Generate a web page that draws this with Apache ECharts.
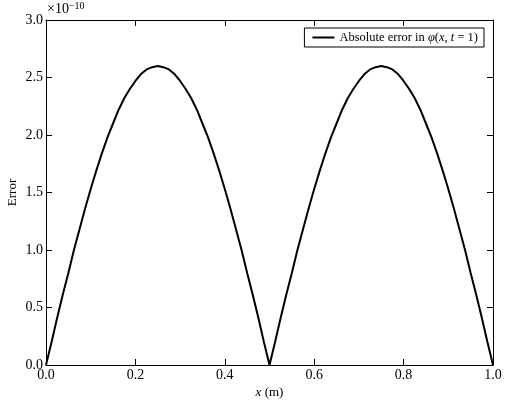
<!DOCTYPE html>
<html>
<head>
<meta charset="utf-8">
<script src="https://cdn.jsdelivr.net/npm/echarts@6/dist/echarts.min.js"></script>
<style>
  html, body { margin: 0; padding: 0; background: #fff; }
  #chart { width: 509px; height: 407px; }
</style>
</head>
<body>
<div id="chart"></div>
<script>
// positions in metres
const xValues = [0, 0.0125, 0.025, 0.0375, 0.05, 0.0625, 0.075, 0.0875, 0.1, 0.1125,
  0.125, 0.1375, 0.15, 0.1625, 0.175, 0.1875, 0.2, 0.2125, 0.225, 0.2375,
  0.25, 0.2625, 0.275, 0.2875, 0.3, 0.3125, 0.325, 0.3375, 0.35, 0.3625,
  0.375, 0.3875, 0.4, 0.4125, 0.425, 0.4375, 0.45, 0.4625, 0.475, 0.4875,
  0.5, 0.5125, 0.525, 0.5375, 0.55, 0.5625, 0.575, 0.5875, 0.6, 0.6125,
  0.625, 0.6375, 0.65, 0.6625, 0.675, 0.6875, 0.7, 0.7125, 0.725, 0.7375,
  0.75, 0.7625, 0.775, 0.7875, 0.8, 0.8125, 0.825, 0.8375, 0.85, 0.8625,
  0.875, 0.8875, 0.9, 0.9125, 0.925, 0.9375, 0.95, 0.9625, 0.975, 0.9875, 1]
// absolute error, in units of 1e-10
const errorValues = [0, 0.20, 0.41, 0.61, 0.80, 1.00, 1.18, 1.36, 1.53, 1.69,
  1.84, 1.98, 2.10, 2.22, 2.32, 2.40, 2.47, 2.53, 2.57, 2.59,
  2.60, 2.59, 2.57, 2.53, 2.47, 2.40, 2.32, 2.22, 2.10, 1.98,
  1.84, 1.69, 1.53, 1.36, 1.18, 1.00, 0.80, 0.61, 0.41, 0.20,
  0, 0.20, 0.41, 0.61, 0.80, 1.00, 1.18, 1.36, 1.53, 1.69,
  1.84, 1.98, 2.10, 2.22, 2.32, 2.40, 2.47, 2.53, 2.57, 2.59,
  2.60, 2.59, 2.57, 2.53, 2.47, 2.40, 2.32, 2.22, 2.10, 1.98,
  1.84, 1.69, 1.53, 1.36, 1.18, 1.00, 0.80, 0.61, 0.41, 0.20, 0]
const seriesName = 'Absolute error in φ(x, t = 1)'

const font = 'Liberation Serif'
const chart = echarts.init(document.getElementById('chart'))

const axisBase = {
  type: 'value',
  axisLine: { show: true, onZero: false, lineStyle: { color: '#000', width: 1 } },
  axisTick: { show: true, inside: true, length: 6, lineStyle: { color: '#000' } },
  splitLine: { show: false }
}

chart.setOption({
  animation: false,
  grid: { left: 46, right: 16, top: 20, bottom: 42, containLabel: false, outerBoundsMode: 'none' },
  legend: {
    data: [seriesName],
    right: 25,
    top: 28,
    padding: [3, 6, 3, 8],
    itemWidth: 22,
    itemHeight: 2,
    itemGap: 12,
    borderColor: '#000',
    borderWidth: 1,
    borderRadius: 0,
    icon: 'rect',
    formatter: () => '{n|Absolute error in }{i|φ}{n|(}{i|x}{n|, }{i|t}{n| = 1)}',
    textStyle: {
      rich: {
        n: { fontFamily: font, fontSize: 12.5, color: '#000' },
        i: { fontFamily: font, fontSize: 12.5, fontStyle: 'italic', color: '#000' }
      }
    }
  },
  xAxis: [
    Object.assign({}, axisBase, {
      min: 0, max: 1, interval: 0.2,
      position: 'bottom',
      name: '{i|x}{n| (m)}',
      nameLocation: 'middle',
      nameGap: 21,
      nameMoveOverlap: false,
      nameTextStyle: {
        rich: {
          n: { fontFamily: font, fontSize: 13, color: '#000' },
          i: { fontFamily: font, fontSize: 13, fontStyle: 'italic', color: '#000' }
        }
      },
      axisLabel: { fontFamily: font, fontSize: 14, color: '#000', margin: 3,
        formatter: v => v.toFixed(1) }
    }),
    Object.assign({}, axisBase, {
      min: 0, max: 1, interval: 0.2,
      position: 'top',
      axisLabel: { show: false }
    })
  ],
  yAxis: [
    Object.assign({}, axisBase, {
      min: 0, max: 3, interval: 0.5,
      position: 'left',
      name: 'Error',
      nameLocation: 'middle',
      nameGap: 27,
      nameMoveOverlap: false,
      nameTextStyle: { fontFamily: font, fontSize: 13, color: '#000' },
      axisLabel: { fontFamily: font, fontSize: 14, color: '#000', margin: 3,
        formatter: v => v.toFixed(1) }
    }),
    Object.assign({}, axisBase, {
      min: 0, max: 3, interval: 0.5,
      position: 'right',
      axisLabel: { show: false }
    })
  ],
  graphic: [{
    type: 'text',
    left: 47,
    top: 1,
    style: {
      text: '×10{s|−10}',
      fontFamily: font,
      fontSize: 14,
      fill: '#000',
      rich: { s: { fontFamily: font, fontSize: 10, verticalAlign: 'top', padding: [0, 0, 7, 0] } }
    }
  }],
  series: [{
    name: seriesName,
    type: 'line',
    data: xValues.map((x, i) => [x, errorValues[i]]),
    showSymbol: false,
    symbol: 'none',
    lineStyle: { color: '#000', width: 2 },
    itemStyle: { color: '#000' }
  }]
})
</script>
</body>
</html>
